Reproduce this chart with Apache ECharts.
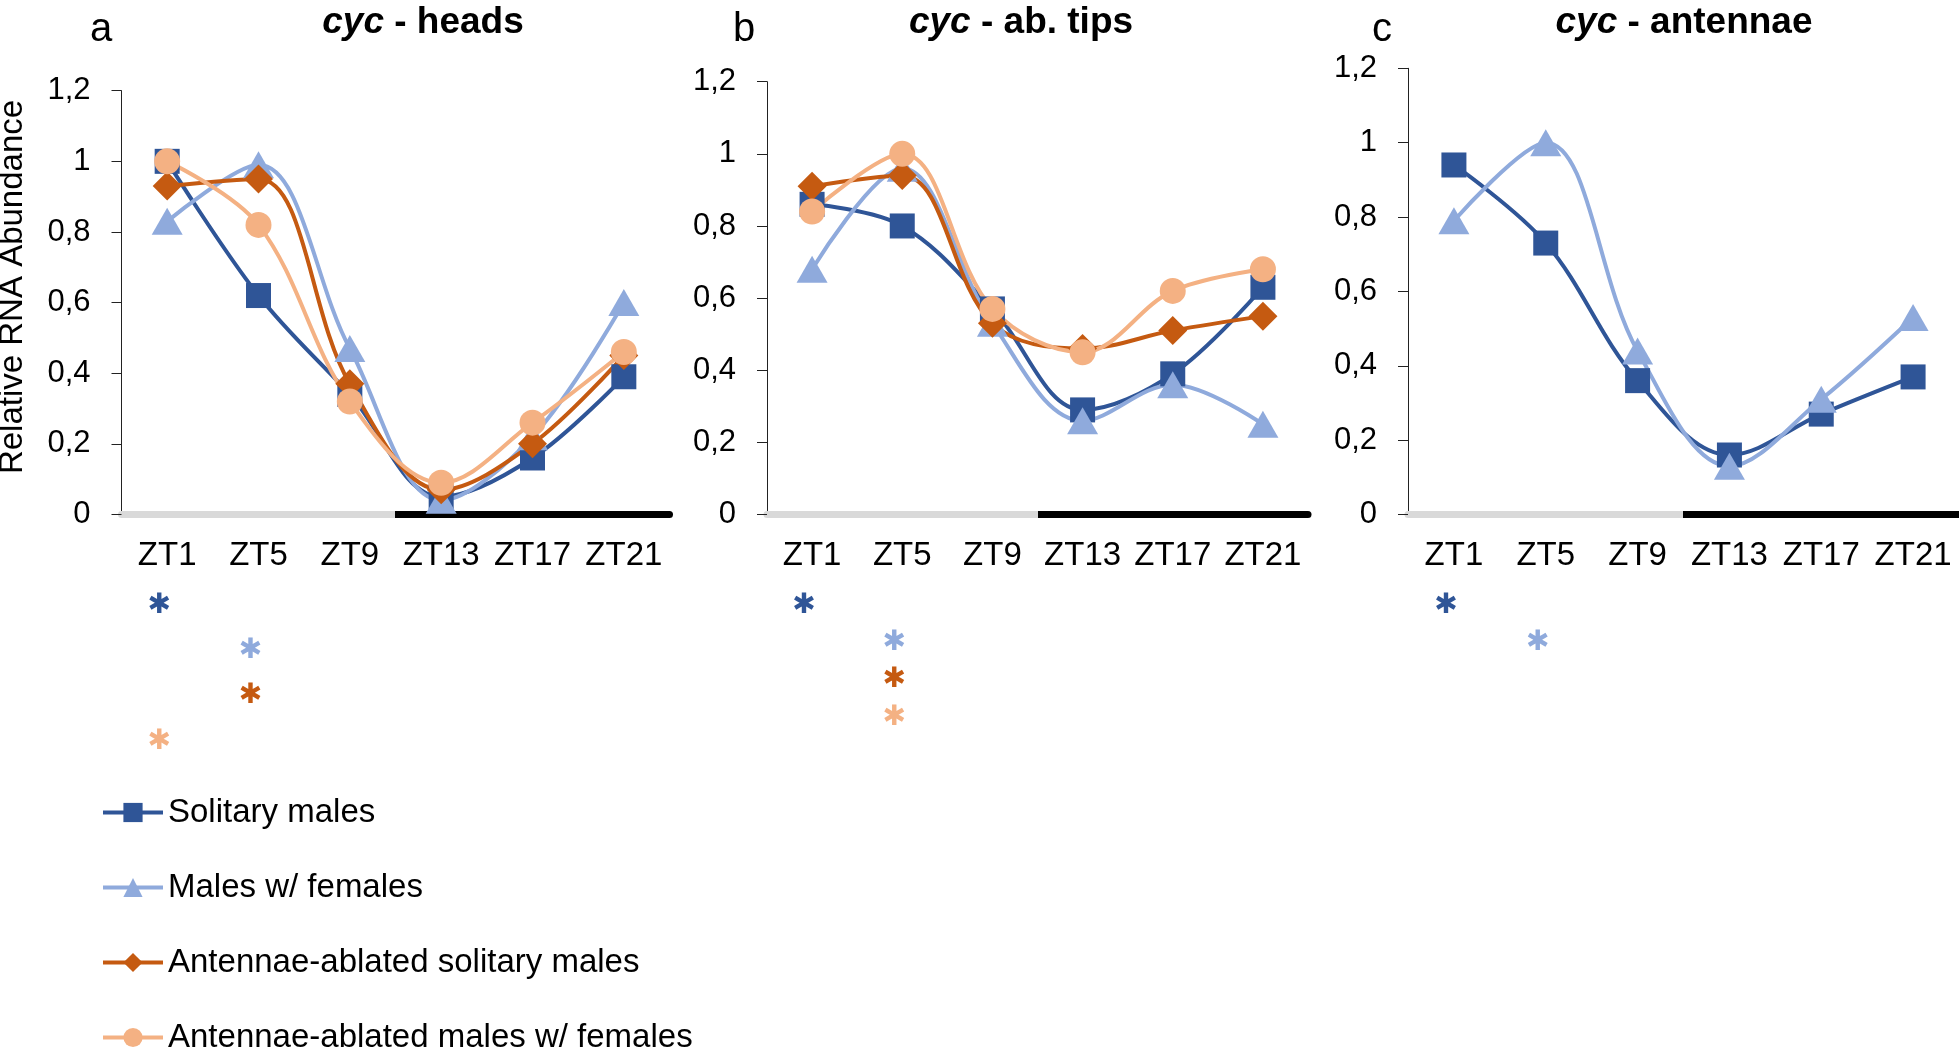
<!DOCTYPE html>
<html>
<head>
<meta charset="utf-8">
<script src="https://cdn.jsdelivr.net/npm/echarts@6/dist/echarts.min.js"></script>
<style>
html, body { margin: 0; padding: 0; background: #fff; }
#chart { width: 1959px; height: 1048px; }
</style>
</head>
<body>
<div id="chart"></div>
<script>
// categories and labels
const categories = ['ZT1', 'ZT5', 'ZT9', 'ZT13', 'ZT17', 'ZT21'];
const seriesNames = ['Solitary males', 'Males w/ females', 'Antennae-ablated solitary males', 'Antennae-ablated males w/ females'];
const panelTitles = ['heads', 'ab. tips', 'antennae'];
const panelLetters = ['a', 'b', 'c'];

// a - heads
const headsSolitary = [1.00, 0.62, 0.34, 0.05, 0.16, 0.39];
const headsFemales = [0.83, 0.99, 0.47, 0.04, 0.22, 0.60];
const headsAblSolitary = [0.93, 0.95, 0.37, 0.07, 0.20, 0.45];
const headsAblFemales = [1.00, 0.82, 0.32, 0.09, 0.26, 0.46];

// b - abdominal tips
const tipsSolitary = [0.86, 0.80, 0.57, 0.29, 0.39, 0.63];
const tipsFemales = [0.68, 0.96, 0.53, 0.26, 0.36, 0.25];
const tipsAblSolitary = [0.91, 0.94, 0.53, 0.46, 0.51, 0.55];
const tipsAblFemales = [0.84, 1.00, 0.57, 0.45, 0.62, 0.68];

// c - antennae
const antSolitary = [0.94, 0.73, 0.36, 0.16, 0.27, 0.37];
const antFemales = [0.79, 1.00, 0.44, 0.13, 0.31, 0.53];

// significance stars: [panel, category, series]
const stars = [
    [0, 'ZT1', 0], [0, 'ZT5', 1], [0, 'ZT5', 2], [0, 'ZT1', 3],
    [1, 'ZT1', 0], [1, 'ZT5', 1], [1, 'ZT5', 2], [1, 'ZT5', 3],
    [2, 'ZT1', 0], [2, 'ZT5', 1]
];

const panelData = [
    [headsSolitary, headsFemales, headsAblSolitary, headsAblFemales],
    [tipsSolitary, tipsFemales, tipsAblSolitary, tipsAblFemales],
    [antSolitary, antFemales]
];

const colors = ['#2F5597', '#8FAADC', '#C55A11', '#F4B183'];
const symbols = ['rect', 'triangle', 'diamond', 'circle'];
const symbolSizes = [25, [31, 27], [29, 29], 26];
const font = 'Liberation Sans, Arial, sans-serif';

const grids = [
    { left: 121.5, top: 90.7, width: 548, height: 423.8 },
    { left: 767, top: 81.7, width: 541, height: 432.8 },
    { left: 1408, top: 68.3, width: 551, height: 446.2 }
];
const titleX = [423, 1021, 1684];
const letterX = [101, 744, 1382];
const starRows = [[606, 651, 696, 742], [606, 643, 680, 718], [606, 643]];

const dayNight = {
    type: 'linear', x: 0, y: 0, x2: 1, y2: 0,
    colorStops: [
        { offset: 0, color: '#D9D9D9' }, { offset: 0.5, color: '#D9D9D9' },
        { offset: 0.5, color: '#000000' }, { offset: 1, color: '#000000' }
    ]
};

let chart = echarts.init(document.getElementById('chart'));

let xAxes = [], yAxes = [], series = [], titles = [];
for (let p = 0; p < 3; p++) {
    xAxes.push({
        type: 'category',
        gridIndex: p,
        data: categories,
        boundaryGap: true,
        axisLine: { lineStyle: { color: dayNight, width: 7 } },
        axisTick: { show: false },
        axisLabel: { color: '#000', fontSize: 33, fontFamily: font, margin: 25, interval: 0 }
    });
    yAxes.push({
        type: 'value',
        gridIndex: p,
        min: 0,
        max: 1.2,
        interval: 0.2,
        axisLine: { show: true, lineStyle: { color: '#222', width: 1 } },
        axisTick: { show: true, length: 10, lineStyle: { color: '#222' } },
        splitLine: { show: false },
        axisLabel: {
            color: '#000', fontSize: 31, fontFamily: font, margin: 31,
            formatter: v => String(+v.toFixed(1)).replace('.', ',')
        }
    });
    panelData[p].forEach((vals, i) => {
        series.push({
            name: seriesNames[i],
            type: 'line',
            xAxisIndex: p,
            yAxisIndex: p,
            data: vals,
            smooth: 0.36,
            symbol: symbols[i],
            symbolSize: symbolSizes[i],
            lineStyle: { color: colors[i], width: 4 },
            itemStyle: { color: colors[i] }
        });
    });
    titles.push({
        text: '{i|cyc} - ' + panelTitles[p],
        left: titleX[p],
        top: 4,
        padding: 0,
        textAlign: 'center',
        textStyle: {
            fontSize: 37, fontWeight: 'bold', fontFamily: font, color: '#000',
            rich: { i: { fontSize: 37, fontWeight: 'bold', fontStyle: 'italic', fontFamily: font, color: '#000' } }
        }
    });
    titles.push({
        text: panelLetters[p],
        left: letterX[p],
        top: 10,
        padding: 0,
        textAlign: 'center',
        textStyle: { fontSize: 40, fontWeight: 'normal', fontFamily: font, color: '#000' }
    });
}

let option = {
    animation: false,
    title: titles,
    grid: grids,
    xAxis: xAxes,
    yAxis: yAxes,
    legend: {
        orient: 'vertical',
        left: 96,
        top: 791,
        height: 400,
        itemWidth: 60,
        itemHeight: 24,
        itemGap: 42,
        data: seriesNames,
        lineStyle: { width: 4 },
        textStyle: { fontSize: 33, fontFamily: font, color: '#000' }
    },
    series: series
};

chart.setOption(option);

// y label and stars placed after the axes exist
let graphics = [{
    type: 'text',
    x: 12.5,
    y: 287,
    rotation: Math.PI / 2,
    style: { text: 'Relative RNA Abundance', font: '33px ' + font, fill: '#000', align: 'center', verticalAlign: 'middle' }
}];
let rowCount = [0, 0, 0];
stars.forEach(s => {
    let x = chart.convertToPixel({ xAxisIndex: s[0] }, s[1]);
    let y = starRows[s[0]][rowCount[s[0]]++];
    graphics.push({
        type: 'text',
        x: x - 8,
        y: y,
        style: {
            text: '\u2731', font: 'bold 28px DejaVu Sans', fill: colors[s[2]],
            align: 'center', verticalAlign: 'middle',
            shadowColor: 'rgba(0,0,0,0.35)', shadowBlur: 2, shadowOffsetX: 1, shadowOffsetY: 1
        }
    });
});
chart.setOption({ graphic: graphics });
</script>
</body>
</html>
